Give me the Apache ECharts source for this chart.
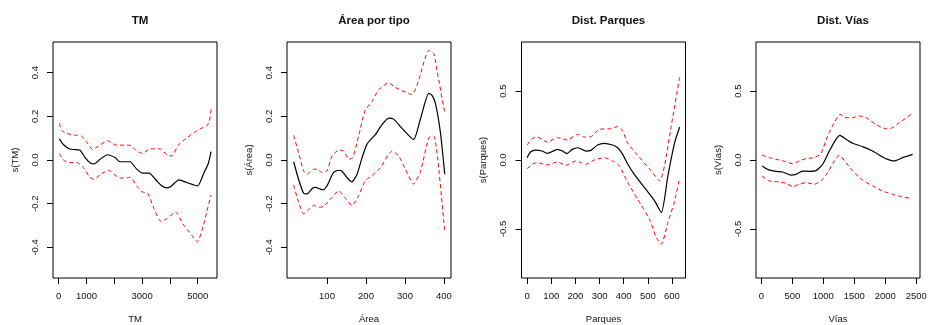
<!DOCTYPE html>
<html>
<head>
<meta charset="utf-8">
<script src="https://cdn.jsdelivr.net/npm/echarts@6/dist/echarts.min.js"></script>
<style>html,body{margin:0;background:#fff}#chart{width:928px;height:325px}</style>
</head>
<body>
<div id="chart"></div>
<script>
const titles = ['TM', 'Área por tipo', 'Dist. Parques', 'Dist. Vías'];
const xNames = ['TM', 'Área', 'Parques', 'Vías'];
const yNames = ['s(TM)', 's(Área)', 's(Parques)', 's(Vías)'];

// TM
const tmFit = [[25,0.097],[168,0.071],[348,0.053],[528,0.048],[767,0.045],[947,0.011],[1151,-0.015],[1271,-0.018],[1487,0.003],[1750,0.024],[2026,0.011],[2206,-0.008],[2566,-0.008],[2806,-0.042],[3010,-0.060],[3250,-0.060],[3525,-0.095],[3705,-0.118],[3885,-0.128],[4005,-0.124],[4328,-0.091],[4604,-0.103],[5000,-0.118],[5204,-0.065],[5384,-0.015],[5480,0.038]];
const tmUpper = [[25,0.169],[108,0.136],[288,0.121],[647,0.113],[827,0.109],[1031,0.078],[1223,0.048],[1427,0.063],[1750,0.088],[2086,0.068],[2566,0.068],[2806,0.041],[3010,0.030],[3286,0.051],[3645,0.051],[3885,0.024],[4065,0.018],[4304,0.069],[4604,0.101],[4964,0.134],[5324,0.157],[5408,0.169],[5480,0.232]];
const tmLower = [[25,0.030],[168,0.000],[408,-0.012],[647,-0.012],[887,-0.035],[1127,-0.080],[1271,-0.088],[1487,-0.068],[1786,-0.047],[2206,-0.083],[2566,-0.080],[2830,-0.122],[2986,-0.145],[3202,-0.152],[3429,-0.223],[3681,-0.281],[3885,-0.269],[4208,-0.238],[4460,-0.291],[4784,-0.344],[4988,-0.374],[5204,-0.299],[5324,-0.238],[5480,-0.160]];

// Área por tipo
const areaFit = [[14.5,-0.008],[27,-0.088],[40,-0.152],[49,-0.155],[62,-0.130],[70,-0.125],[83,-0.133],[91,-0.136],[100,-0.118],[117,-0.057],[130,-0.047],[138,-0.050],[151,-0.080],[164,-0.100],[177,-0.065],[190,0.011],[203,0.074],[224,0.116],[241,0.162],[258,0.192],[271,0.187],[292,0.146],[322,0.094],[339,0.184],[361,0.305],[369,0.297],[378,0.260],[391,0.124],[402,-0.065]];
const areaUpper = [[14.5,0.113],[27,0.033],[40,-0.050],[49,-0.065],[66,-0.042],[74,-0.042],[87,-0.057],[100,-0.050],[113,0.018],[130,0.045],[143,0.041],[156,0.003],[166,0.011],[181,0.109],[198,0.229],[215,0.267],[232,0.320],[258,0.353],[275,0.332],[318,0.300],[335,0.365],[361,0.501],[374,0.486],[382,0.411],[402,0.214]];
const areaLower = [[14.5,-0.115],[27,-0.193],[40,-0.246],[49,-0.234],[66,-0.208],[79,-0.216],[91,-0.213],[113,-0.171],[130,-0.140],[147,-0.175],[164,-0.208],[181,-0.163],[198,-0.095],[215,-0.072],[237,-0.035],[267,0.041],[284,0.018],[301,-0.042],[322,-0.110],[339,-0.057],[361,0.101],[374,0.109],[385,-0.012],[402,-0.329]];

// Dist. Parques
const parquesFit = [[0,0.017],[14,0.058],[35,0.072],[62,0.065],[83,0.048],[100,0.058],[125,0.077],[146,0.065],[164,0.046],[187,0.077],[208,0.089],[222,0.082],[243,0.065],[264,0.070],[292,0.109],[319,0.121],[354,0.109],[375,0.089],[396,0.041],[417,-0.031],[444,-0.104],[486,-0.200],[528,-0.297],[556,-0.382],[583,-0.116],[611,0.126],[632,0.239]];
const parquesUpper = [[0,0.109],[21,0.155],[42,0.167],[83,0.130],[125,0.162],[167,0.145],[208,0.186],[236,0.167],[264,0.169],[299,0.222],[347,0.227],[375,0.242],[396,0.210],[417,0.121],[458,0.034],[514,-0.080],[549,-0.152],[569,-0.043],[597,0.246],[632,0.604]];
const parquesLower = [[0,-0.063],[21,-0.031],[42,-0.019],[83,-0.036],[125,-0.014],[160,-0.039],[201,-0.007],[222,-0.019],[243,-0.031],[278,0.000],[319,0.017],[354,-0.007],[382,-0.043],[417,-0.164],[458,-0.285],[507,-0.430],[535,-0.563],[556,-0.611],[583,-0.454],[611,-0.297],[632,-0.128]];

// Dist. Vías
const viasFit = [[11,-0.043],[102,-0.068],[237,-0.082],[344,-0.087],[478,-0.109],[559,-0.104],[667,-0.080],[774,-0.082],[882,-0.077],[989,-0.031],[1097,0.065],[1204,0.150],[1269,0.179],[1366,0.150],[1473,0.121],[1634,0.097],[1796,0.065],[1957,0.022],[2038,0.005],[2145,-0.007],[2279,0.017],[2441,0.041]];
const viasUpper = [[11,0.036],[129,0.017],[290,0.000],[398,-0.012],[505,-0.027],[613,-0.007],[721,0.010],[855,0.017],[962,0.048],[1070,0.174],[1177,0.271],[1269,0.331],[1366,0.307],[1473,0.307],[1581,0.319],[1688,0.307],[1849,0.258],[2011,0.227],[2091,0.229],[2226,0.271],[2441,0.338]];
const viasLower = [[11,-0.116],[129,-0.152],[290,-0.159],[398,-0.169],[505,-0.193],[613,-0.176],[721,-0.164],[855,-0.176],[962,-0.152],[1070,-0.092],[1177,-0.007],[1258,0.034],[1366,-0.019],[1473,-0.080],[1634,-0.147],[1796,-0.188],[1957,-0.225],[2118,-0.249],[2279,-0.268],[2420,-0.280]];

// ticks and tick labels
const tmTicks = [0, 1000, 2000, 3000, 4000, 5000];
const tmLabels = [0, 1000, 3000, 5000];
const areaTicks = [100, 200, 300, 400];
const parquesTicks = [0, 100, 200, 300, 400, 500, 600];
const viasTicks = [0, 500, 1000, 1500, 2000, 2500];
const yTicksSmall = [-0.4, -0.2, 0, 0.2, 0.4];
const yTicksLarge = [-0.5, 0, 0.5];

const panels = [
  { fit: tmFit, upper: tmUpper, lower: tmLower, xTicks: tmTicks, xLabels: tmLabels, yTicks: yTicksSmall, xMin: -205, xMax: 5694, yLim: 0.54 },
  { fit: areaFit, upper: areaUpper, lower: areaLower, xTicks: areaTicks, xLabels: areaTicks, yTicks: yTicksSmall, xMin: -2.6, xMax: 418, yLim: 0.54 },
  { fit: parquesFit, upper: parquesUpper, lower: parquesLower, xTicks: parquesTicks, xLabels: parquesTicks, yTicks: yTicksLarge, xMin: -23.3, xMax: 656, yLim: 0.856 },
  { fit: viasFit, upper: viasUpper, lower: viasLower, xTicks: viasTicks, xLabels: viasTicks, yTicks: yTicksLarge, xMin: -86, xMax: 2560, yLim: 0.856 }
];

const boxLeft = [53, 287, 521.5, 756];
const boxW = 164, boxTop = 42, boxH = 236;
const font = 'Liberation Sans, Arial, sans-serif';
const txt = '#111';

const chart = echarts.init(document.getElementById('chart'));
const option = {
  animation: false,
  backgroundColor: '#fff',
  title: titles.map((t, i) => ({
    text: t,
    left: boxLeft[i] + boxW / 2,
    top: 10,
    textAlign: 'center',
    textStyle: { fontFamily: font, fontSize: 11.5, fontWeight: 'bold', color: txt }
  })),
  grid: panels.map((p, i) => ({
    left: boxLeft[i], top: boxTop, width: boxW, height: boxH,
    outerBoundsMode: 'none', containLabel: false,
    show: true, borderColor: '#000', borderWidth: 1, backgroundColor: 'transparent'
  })),
  xAxis: panels.map((p, i) => ({
    type: 'value', gridIndex: i, min: p.xMin, max: p.xMax,
    name: xNames[i], nameLocation: 'middle', nameGap: 36,
    nameTextStyle: { fontFamily: font, fontSize: 9.5, color: txt },
    axisLine: { show: false, onZero: false },
    axisTick: { show: true, inside: false, length: 6, customValues: p.xTicks, lineStyle: { color: '#000' } },
    axisLabel: { customValues: p.xLabels, margin: 13, fontFamily: font, fontSize: 9.5, color: txt,
      formatter: v => String(v) },
    splitLine: { show: false }
  })),
  yAxis: panels.map((p, i) => ({
    type: 'value', gridIndex: i, min: -p.yLim, max: p.yLim,
    name: yNames[i], nameLocation: 'middle', nameGap: 33, nameRotate: 90,
    nameTextStyle: { fontFamily: font, fontSize: 9.5, color: txt },
    axisLine: { show: false, onZero: false },
    axisTick: { show: true, inside: false, length: 6, customValues: p.yTicks, lineStyle: { color: '#000' } },
    axisLabel: { customValues: p.yTicks, rotate: 90, margin: 13, fontFamily: font, fontSize: 9.5, color: txt,
      formatter: v => v.toFixed(1) },
    splitLine: { show: false }
  })),
  series: panels.flatMap((p, i) => [
    { type: 'line', xAxisIndex: i, yAxisIndex: i, data: p.upper, symbol: 'none', smooth: 0.2,
      lineStyle: { color: '#ff0000', width: 1, type: [4, 3] } },
    { type: 'line', xAxisIndex: i, yAxisIndex: i, data: p.lower, symbol: 'none', smooth: 0.2,
      lineStyle: { color: '#ff0000', width: 1, type: [4, 3] } },
    { type: 'line', xAxisIndex: i, yAxisIndex: i, data: p.fit, symbol: 'none', smooth: 0.2,
      lineStyle: { color: '#000', width: 1.2 } }
  ])
};
chart.setOption(option);
</script>
</body>
</html>
